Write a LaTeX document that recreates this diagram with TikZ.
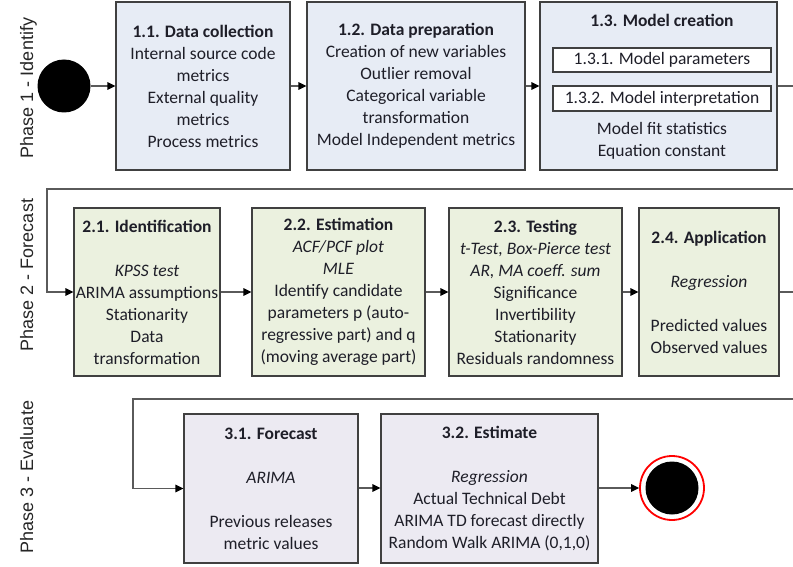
\documentclass[tikz,border=0pt]{standalone}
\usepackage{fontspec}
\setmainfont{Carlito}
\newfontfamily\phasefont{Liberation Sans}
\usetikzlibrary{arrows.meta}
\definecolor{pone}{HTML}{E7ECF5}
\definecolor{ptwo}{HTML}{EBF1DF}
\definecolor{pthree}{HTML}{ECEAF2}
\definecolor{bord}{HTML}{404040}
\definecolor{conncol}{HTML}{5A5A5A}
\definecolor{txt}{HTML}{1E1E28}
\definecolor{phtxt}{HTML}{262626}
\tikzset{
  stagebox/.style={draw=bord, line width=1.3pt, align=center, inner sep=0pt, text=txt,
    font=\fontsize{17.5}{22}\selectfont},
  boxone/.style={stagebox, fill=pone},
  boxtwo/.style={stagebox, fill=ptwo},
  boxthree/.style={stagebox, fill=pthree},
  subbox/.style={draw=bord, line width=1.2pt, fill=white, inner sep=0pt, text=txt,
    font=\fontsize{17.5}{22}\selectfont},
  plaintext/.style={inner sep=0pt, text=txt, font=\fontsize{17.5}{22}\selectfont, align=center},
  conn/.style={draw=conncol, line width=1.5pt, -{Triangle[length=8pt,width=7.5pt,color=black]}},
  phaselabel/.style={rotate=90, anchor=base, text=phtxt, font=\phasefont\fontsize{18}{20}\selectfont, inner sep=0pt}
}
\begin{document}
\begin{tikzpicture}[x=1pt,y=-1pt]
\useasboundingbox (0,0) rectangle (793,567);
\clip (0,0) rectangle (793,567);
\fill[white] (0,0) rectangle (793,567);

% phase labels
\node[phaselabel] (ph1) at (33,88) {Phase 1 - Identify};
\node[phaselabel] (ph2) at (33,275) {Phase 2 - Forecast};
\node[phaselabel] (ph3) at (33,477) {Phase 3 - Evaluate};

% far-right turning points (outside the visible area)
\coordinate (edge) at (830,0);
\coordinate (t1) at (47,189);
\coordinate (t2) at (133,399);

% start
\node[circle, fill=black, minimum size=53pt, inner sep=0pt] (start) at (64,86) {};

% phase 1
\node[boxone, minimum width=174pt, minimum height=168pt] (b11) at (203,86)
  {\textbf{1.1. Data collection}\\Internal source code\\metrics\\External quality\\metrics\\Process metrics};
\node[boxone, minimum width=218pt, minimum height=168pt] (b12) at (416,86)
  {\textbf{1.2. Data preparation}\\Creation of new variables\\Outlier removal\\Categorical variable\\transformation\\Model Independent metrics};
\node[boxone, minimum width=237pt, minimum height=168pt] (b13) at (658.5,86) {};
\node[plaintext] (b13t) at (662,20) {\textbf{1.3. Model creation}};
\node[subbox, minimum width=218pt, minimum height=24pt] (s131) at (662,60) {1.3.1. Model parameters};
\node[subbox, minimum width=218pt, minimum height=25pt] (s132) at (662,98.5) {1.3.2. Model interpretation};
\node[plaintext] (b13b) at (662,141) {Model fit statistics\\Equation constant};

% phase 2
\node[boxtwo, minimum width=146pt, minimum height=168pt] (b21) at (147,292)
  {\textbf{2.1. Identification}\\\mbox{}\\\textit{KPSS test}\\ARIMA assumptions\\Stationarity\\Data\\transformation};
\node[boxtwo, minimum width=173pt, minimum height=168pt] (b22) at (338.5,292)
  {\textbf{2.2. Estimation}\\\textit{ACF/PCF plot}\\\textit{MLE}\\Identify candidate\\parameters p (auto-\\regressive part) and q\\(moving average part)};
\node[boxtwo, minimum width=173pt, minimum height=168pt] (b23) at (535.5,292)
  {\textbf{2.3. Testing}\\\textit{t-Test, Box-Pierce test}\\\textit{AR, MA coeff. sum}\\Significance\\Invertibility\\Stationarity\\Residuals randomness};
\node[boxtwo, minimum width=140pt, minimum height=168pt] (b24) at (709,292)
  {\textbf{2.4. Application}\\\mbox{}\\\textit{Regression}\\\mbox{}\\Predicted values\\Observed values};

% phase 3
\node[boxthree, minimum width=174pt, minimum height=149pt] (b31) at (271,488.5)
  {\textbf{3.1. Forecast}\\\mbox{}\\\textit{ARIMA}\\\mbox{}\\Previous releases\\metric values};
\node[boxthree, minimum width=217pt, minimum height=149pt] (b32) at (489.5,488.5)
  {\textbf{3.2. Estimate}\\\mbox{}\\\textit{Regression}\\Actual Technical Debt\\ARIMA TD forecast directly\\Random Walk ARIMA (0,1,0)};

% end
\node[circle, draw=red, line width=1.8pt, fill=white, minimum size=64pt, inner sep=0pt] (end) at (672,488) {};
\fill[black] (end.center) circle (26.5);

% connectors
\draw[conn] (start) -- (b11);
\draw[conn] (b11) -- (b12);
\draw[conn] (b12) -- (b13);
\draw[conn] (b13.east) -- (b13.east -| edge) |- (t1) |- (b21.west);
\draw[conn] (b21) -- (b22);
\draw[conn] (b22) -- (b23);
\draw[conn] (b23) -- (b24);
\draw[conn] (b24.east) -- (b24.east -| edge) |- (t2) |- (b31.west);
\draw[conn] (b31.east |- end) -- (b32.west |- end);
\draw[conn] (b32.east |- end) -- (end);
\end{tikzpicture}
\end{document}
